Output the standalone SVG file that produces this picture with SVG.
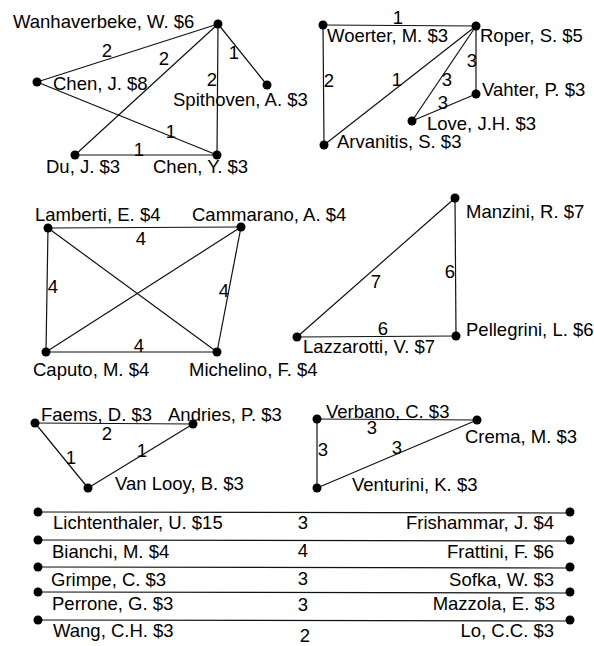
<svg xmlns="http://www.w3.org/2000/svg" width="594" height="646" viewBox="0 0 594 646">
<style>
text{font-family:"Liberation Sans",Arial,sans-serif;font-size:18.5px;fill:#000}
.e{text-anchor:middle}
.r{text-anchor:end}
line{stroke:#111;stroke-width:1.2}
circle{fill:#000}
</style>
<rect width="594" height="646" fill="#fff"/>
<g id="connectors">
<line x1="218" y1="24" x2="37" y2="82"/>
<line x1="218" y1="24" x2="75" y2="155"/>
<line x1="218" y1="24" x2="217" y2="155"/>
<line x1="218" y1="24" x2="267" y2="85"/>
<line x1="37" y1="82" x2="217" y2="155"/>
<line x1="75" y1="155" x2="217" y2="155"/>
<line x1="323" y1="25" x2="476" y2="26"/>
<line x1="323" y1="25" x2="324" y2="145"/>
<line x1="476" y1="26" x2="324" y2="145"/>
<line x1="476" y1="26" x2="412" y2="121"/>
<line x1="476" y1="26" x2="476" y2="94"/>
<line x1="476" y1="94" x2="412" y2="121"/>
<line x1="48" y1="228" x2="241" y2="227"/>
<line x1="48" y1="228" x2="46" y2="352"/>
<line x1="48" y1="228" x2="217" y2="352"/>
<line x1="241" y1="227" x2="46" y2="352"/>
<line x1="241" y1="227" x2="217" y2="352"/>
<line x1="46" y1="352" x2="217" y2="352"/>
<line x1="455" y1="198" x2="297" y2="337"/>
<line x1="455" y1="198" x2="456" y2="336"/>
<line x1="297" y1="337" x2="456" y2="336"/>
<line x1="35" y1="423" x2="193" y2="424"/>
<line x1="35" y1="423" x2="88" y2="488"/>
<line x1="193" y1="424" x2="88" y2="488"/>
<line x1="317" y1="419" x2="477" y2="420"/>
<line x1="317" y1="419" x2="317" y2="488"/>
<line x1="477" y1="420" x2="317" y2="488"/>
<line x1="38" y1="512" x2="570" y2="513"/>
<line x1="38" y1="540" x2="570" y2="541"/>
<line x1="38" y1="567" x2="570" y2="568"/>
<line x1="38" y1="592" x2="570" y2="593"/>
<line x1="38" y1="620" x2="570" y2="621"/>
<text class="e" x="107" y="57">2</text>
<text class="e" x="164" y="65">2</text>
<text class="e" x="212" y="86">2</text>
<text class="e" x="234" y="59">1</text>
<text class="e" x="171" y="138">1</text>
<text class="e" x="139" y="156">1</text>
<text class="e" x="398" y="24">1</text>
<text class="e" x="329" y="87">2</text>
<text class="e" x="397" y="86">1</text>
<text class="e" x="447" y="86">3</text>
<text class="e" x="472" y="67">3</text>
<text class="e" x="443" y="109">3</text>
<text class="e" x="141" y="245">4</text>
<text class="e" x="53" y="293">4</text>
<text class="e" x="224" y="297">4</text>
<text class="e" x="139" y="352">4</text>
<text class="e" x="376" y="288">7</text>
<text class="e" x="450" y="278">6</text>
<text class="e" x="383" y="335">6</text>
<text class="e" x="107" y="440">2</text>
<text class="e" x="71" y="464">1</text>
<text class="e" x="142" y="457">1</text>
<text class="e" x="372" y="434">3</text>
<text class="e" x="323" y="456">3</text>
<text class="e" x="397" y="454">3</text>
<text class="e" x="303" y="529">3</text>
<text class="e" x="303" y="557">4</text>
<text class="e" x="303" y="585">3</text>
<text class="e" x="303" y="611">3</text>
<text class="e" x="305" y="642">2</text>
</g>
<g id="wanhaverbeke"><circle cx="218" cy="24" r="4.5"/><text x="13" y="28">Wanhaverbeke, W. $6</text></g>
<g id="chen-j"><circle cx="37" cy="82" r="4.5"/><text x="53" y="90">Chen, J. $8</text></g>
<g id="spithoven"><circle cx="267" cy="85" r="4.5"/><text x="173" y="106">Spithoven, A. $3</text></g>
<g id="du"><circle cx="75" cy="155" r="4.5"/><text x="46" y="173">Du, J. $3</text></g>
<g id="chen-y"><circle cx="217" cy="155" r="4.5"/><text x="153" y="173">Chen, Y. $3</text></g>
<g id="woerter"><circle cx="323" cy="25" r="4.5"/><text x="327" y="42">Woerter, M. $3</text></g>
<g id="roper"><circle cx="476" cy="26" r="4.5"/><text x="480" y="42">Roper, S. $5</text></g>
<g id="vahter"><circle cx="476" cy="94" r="4.5"/><text x="482" y="96">Vahter, P. $3</text></g>
<g id="love"><circle cx="412" cy="121" r="4.5"/><text x="427" y="130">Love, J.H. $3</text></g>
<g id="arvanitis"><circle cx="324" cy="145" r="4.5"/><text x="337" y="148">Arvanitis, S. $3</text></g>
<g id="lamberti"><circle cx="48" cy="228" r="4.5"/><text x="35" y="221">Lamberti, E. $4</text></g>
<g id="cammarano"><circle cx="241" cy="227" r="4.5"/><text x="192" y="221">Cammarano, A. $4</text></g>
<g id="caputo"><circle cx="46" cy="352" r="4.5"/><text x="33" y="376">Caputo, M. $4</text></g>
<g id="michelino"><circle cx="217" cy="352" r="4.5"/><text x="189" y="376">Michelino, F. $4</text></g>
<g id="manzini"><circle cx="455" cy="198" r="4.5"/><text x="466" y="218">Manzini, R. $7</text></g>
<g id="pellegrini"><circle cx="456" cy="336" r="4.5"/><text x="466" y="336">Pellegrini, L. $6</text></g>
<g id="lazzarotti"><circle cx="297" cy="337" r="4.5"/><text x="303" y="353">Lazzarotti, V. $7</text></g>
<g id="faems"><circle cx="35" cy="423" r="4.5"/><text x="41" y="421">Faems, D. $3</text></g>
<g id="andries"><circle cx="193" cy="424" r="4.5"/><text x="168" y="421">Andries, P. $3</text></g>
<g id="vanlooy"><circle cx="88" cy="488" r="4.5"/><text x="115" y="490">Van Looy, B. $3</text></g>
<g id="verbano"><circle cx="317" cy="419" r="4.5"/><text x="326" y="418">Verbano, C. $3</text></g>
<g id="crema"><circle cx="477" cy="420" r="4.5"/><text x="465" y="443">Crema, M. $3</text></g>
<g id="venturini"><circle cx="317" cy="488" r="4.5"/><text x="352" y="491">Venturini, K. $3</text></g>
<g id="lichtenthaler"><circle cx="38" cy="512" r="4.5"/><text x="53" y="529">Lichtenthaler, U. $15</text></g>
<g id="frishammar"><circle cx="570" cy="512" r="4.5"/><text class="r" x="554" y="529">Frishammar, J. $4</text></g>
<g id="bianchi"><circle cx="38" cy="540" r="4.5"/><text x="52" y="558">Bianchi, M. $4</text></g>
<g id="frattini"><circle cx="570" cy="540" r="4.5"/><text class="r" x="554" y="558">Frattini, F. $6</text></g>
<g id="grimpe"><circle cx="38" cy="567" r="4.5"/><text x="51" y="586">Grimpe, C. $3</text></g>
<g id="sofka"><circle cx="570" cy="567" r="4.5"/><text class="r" x="554" y="586">Sofka, W. $3</text></g>
<g id="perrone"><circle cx="38" cy="592" r="4.5"/><text x="52" y="610">Perrone, G. $3</text></g>
<g id="mazzola"><circle cx="570" cy="592" r="4.5"/><text class="r" x="555" y="610">Mazzola, E. $3</text></g>
<g id="wang"><circle cx="38" cy="620" r="4.5"/><text x="53" y="637">Wang, C.H. $3</text></g>
<g id="lo"><circle cx="570" cy="620" r="4.5"/><text class="r" x="554" y="637">Lo, C.C. $3</text></g>
</svg>
